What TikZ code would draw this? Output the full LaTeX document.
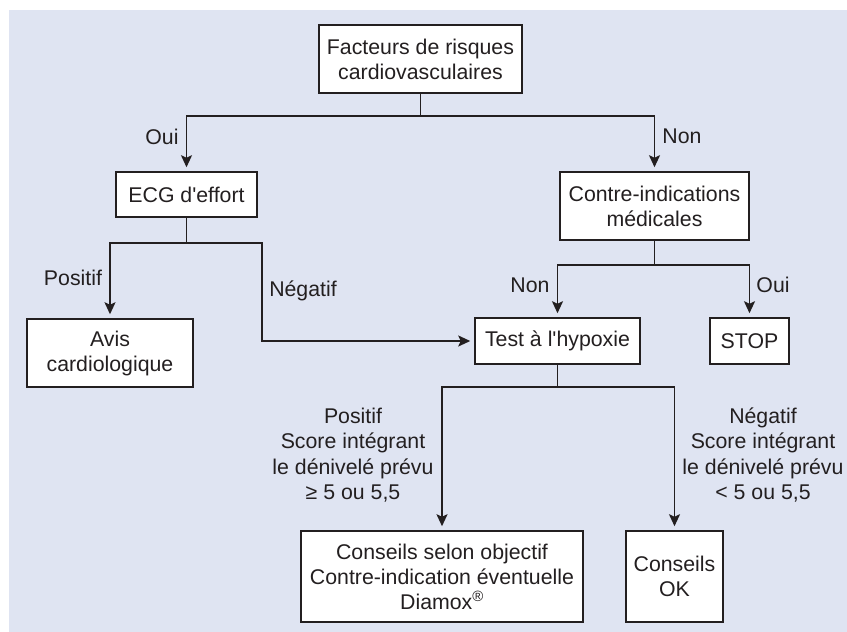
\documentclass[tikz,border=0pt]{standalone}
\usepackage{fontspec}
\setmainfont{Liberation Sans}[Ligatures=TeXOff]
\usetikzlibrary{arrows.meta}
\definecolor{bgblue}{HTML}{DFE4F2}
\definecolor{ink}{HTML}{231F20}
\begin{document}
\begin{tikzpicture}[x=1pt,y=-1pt,
  every node/.style={font=\fontsize{21.3}{25}\selectfont, text=ink, inner sep=0pt, align=center},
  box/.style={draw=ink, line width=1.5pt, fill=white},
  conn/.style={draw=ink, line width=1.8pt},
  arr/.style={conn, -{Stealth[length=12pt,width=11pt,inset=2.5pt]}, shorten >=4pt},
  lbl/.style={font=\fontsize{21.3}{25.5}\selectfont}
]
\useasboundingbox (0,0) rectangle (847,632);
\fill[bgblue] (9,10) rectangle (847,632);

% boxes
\node[box, minimum width=203pt, minimum height=68pt] (top) at (420.5,59) {Facteurs de risques\\cardiovasculaires};
\node[box, minimum width=141pt, minimum height=45pt] (ecg) at (186.5,194.5) {ECG d'effort};
\node[box, minimum width=189pt, minimum height=68pt] (ci) at (654.5,206) {Contre-indications\\médicales};
\node[box, minimum width=166pt, minimum height=68pt] (avis) at (110,353) {Avis\\cardiologique};
\node[box, minimum width=165pt, minimum height=46pt] (test) at (557.5,341) {Test à l'hypoxie};
\node[box, minimum width=79pt, minimum height=46pt] (stop) at (749.5,341) {STOP};
\node[box, minimum width=282pt, minimum height=91pt] (cs) at (442,576.5) {Conseils selon objectif\\Contre-indication éventuelle\\Diamox\textsuperscript{®}};
\node[box, minimum width=97pt, minimum height=91pt] (ok) at (674.5,576.5) {Conseils\\OK};

% junctions
\coordinate (j1) at (420.5,116);
\coordinate (j2) at (186.5,243);
\coordinate (k2) at (262,243);
\coordinate (j3) at (654.5,265);
\coordinate (j4) at (557.5,387);

% connectors
\draw[conn] (top.south) -- (j1);
\draw[arr] (j1) -| (ecg.north);
\draw[arr] (j1) -| (ci.north);

\draw[conn] (ecg.south) -- (j2);
\draw[arr] (j2) -| (avis.north);
\draw[arr] (j2) -- (k2) |- (test.west);

\draw[conn] (ci.south) -- (j3);
\draw[arr] (j3) -| (test.north);
\draw[arr] (j3) -| (stop.north);

\draw[conn] (test.south) -- (j4);
\draw[arr] (j4) -| (cs.north);
\draw[arr] (j4) -| (ok.north);

% labels
\node[lbl] (l1) at (162,137) {Oui};
\node[lbl] (l2) at (682,136) {Non};
\node[lbl] (l3) at (73,278) {Positif};
\node[lbl] (l4) at (303,291) {Négatif};
\node[lbl] (l5) at (530,285) {Non};
\node[lbl] (l6) at (773,285) {Oui};
\node[lbl] (l7) at (353,455) {Positif\\Score intégrant\\le dénivelé prévu\\≥ 5 ou 5,5};
\node[lbl] (l8) at (763,455) {Négatif\\Score intégrant\\le dénivelé prévu\\< 5 ou 5,5};
\end{tikzpicture}
\end{document}
